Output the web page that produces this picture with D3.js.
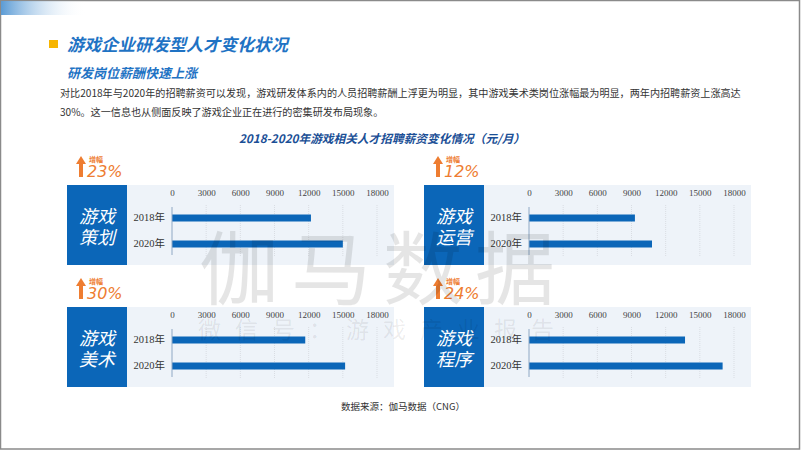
<!DOCTYPE html>
<html>
<head>
<meta charset="utf-8">
<script src="https://cdn.jsdelivr.net/npm/d3@7/dist/d3.min.js"></script>
<style>
  body { margin: 0; background: #fff; }
  svg { display: block; }
</style>
</head>
<body>
<div id="chart"></div>
<script>
// data
var roleNames = ["游戏策划", "游戏运营", "游戏美术", "游戏程序"];
var years = ["2018年", "2020年"];
var salary2018 = [12200, 9300, 11700, 13700];
var salary2020 = [15000, 10800, 15200, 17000];
var growth = ["23%", "12%", "30%", "24%"];
var tickValues = [0, 3000, 6000, 9000, 12000, 15000, 18000];

var width = 802, height = 451;
var cjk = "'Noto Sans CJK SC', 'Noto Sans', sans-serif";
var serif = "'Liberation Serif', 'Noto Sans CJK SC', serif";
var blue = "#0b66b8";
var orange = "#ee7d31";

var svg = d3.select("#chart").append("svg")
  .attr("width", width)
  .attr("height", height);

var defs = svg.append("defs");
var grad = defs.append("linearGradient").attr("id", "topGrad");
grad.append("stop").attr("offset", "0%").attr("stop-color", "#5b9bd5");
grad.append("stop").attr("offset", "100%").attr("stop-color", "#ffffff").attr("stop-opacity", 0);

// frame
svg.append("rect")
  .attr("x", 0.5).attr("y", 0.5)
  .attr("width", 799).attr("height", 448.5)
  .attr("fill", "none")
  .attr("stroke", "#8a8a8a")
  .attr("stroke-width", 1.5);
svg.append("rect")
  .attr("x", 1).attr("y", 1)
  .attr("width", 85).attr("height", 14)
  .attr("fill", "url(#topGrad)");

// heading
svg.append("rect")
  .attr("x", 49).attr("y", 40)
  .attr("width", 9).attr("height", 8)
  .attr("fill", "#f7b500");
svg.append("text")
  .attr("x", 67).attr("y", 51)
  .attr("font-family", cjk)
  .attr("font-size", 17)
  .attr("font-weight", "bold")
  .attr("font-style", "italic")
  .attr("fill", "#1f73c4")
  .text("游戏企业研发型人才变化状况");
svg.append("text")
  .attr("x", 67).attr("y", 78)
  .attr("font-family", cjk)
  .attr("font-size", 13)
  .attr("font-weight", "bold")
  .attr("font-style", "italic")
  .attr("fill", "#1f73c4")
  .text("研发岗位薪酬快速上涨");

var para = [
  "对比2018年与2020年的招聘薪资可以发现，游戏研发体系内的人员招聘薪酬上浮更为明显，其中游戏美术类岗位涨幅最为明显，两年内招聘薪资上涨高达",
  "30%。这一信息也从侧面反映了游戏企业正在进行的密集研发布局现象。"
];
svg.selectAll("text.para")
  .data(para)
  .enter().append("text")
  .attr("class", "para")
  .attr("x", 60)
  .attr("y", function(d, i) { return 97 + i * 19; })
  .attr("font-family", cjk)
  .attr("font-size", 10.1)
  .attr("fill", "#333")
  .text(function(d) { return d; });

svg.append("text")
  .attr("x", 382).attr("y", 143)
  .attr("text-anchor", "middle")
  .attr("font-family", cjk)
  .attr("font-size", 11.7)
  .attr("font-weight", "bold")
  .attr("font-style", "italic")
  .attr("fill", "#1b4f96")
  .text("2018-2020年游戏相关人才招聘薪资变化情况（元/月）");

// panels
var colX = [67, 424];
var rowY = [185, 307];

var x = d3.scaleLinear().domain([0, 18000]).range([105, 310]);
var y = d3.scaleBand().domain(years).range([20, 72]);

roleNames.forEach(function(name, i) {
  var px = colX[i % 2], py = rowY[Math.floor(i / 2)];
  var g = svg.append("g").attr("transform", "translate(" + px + "," + py + ")");
  var values = [salary2018[i], salary2020[i]];

  g.append("rect")
    .attr("x", 60).attr("y", 0)
    .attr("width", 267).attr("height", 80)
    .attr("fill", "#eef3f9");
  g.append("rect")
    .attr("x", 0).attr("y", 0)
    .attr("width", 60).attr("height", 80)
    .attr("fill", blue);

  g.selectAll("text.role")
    .data([name.slice(0, 2), name.slice(2)])
    .enter().append("text")
    .attr("class", "role")
    .attr("x", 30)
    .attr("y", function(d, j) { return 38 + j * 21; })
    .attr("text-anchor", "middle")
    .attr("font-family", cjk)
    .attr("font-size", 18)
    .attr("font-style", "italic")
    .attr("fill", "#fff")
    .text(function(d) { return d; });

  // grid
  g.selectAll("line.grid")
    .data(tickValues.slice(1))
    .enter().append("line")
    .attr("class", "grid")
    .attr("x1", function(d) { return x(d); })
    .attr("x2", function(d) { return x(d); })
    .attr("y1", 20).attr("y2", 72)
    .attr("stroke", "#d9dde3")
    .attr("stroke-dasharray", "1,1");

  var axis = g.append("g")
    .attr("transform", "translate(0,14)")
    .call(d3.axisTop(x).tickValues(tickValues).tickSize(0).tickFormat(d3.format("d")));
  axis.select(".domain").remove();
  axis.selectAll("text")
    .attr("font-family", serif)
    .attr("font-size", 9)
    .attr("fill", "#444");

  g.selectAll("rect.bar")
    .data(values)
    .enter().append("rect")
    .attr("class", "bar")
    .attr("x", x(0))
    .attr("y", function(d, j) { return y(years[j]) + y.bandwidth() / 2 - 3.5; })
    .attr("width", function(d) { return x(d) - x(0); })
    .attr("height", 7)
    .attr("fill", blue);

  g.append("line")
    .attr("x1", x(0)).attr("x2", x(0))
    .attr("y1", 22).attr("y2", 70)
    .attr("stroke", "#8fa8c4")
    .attr("stroke-width", 1);

  var yAxis = g.append("g")
    .attr("transform", "translate(" + (x(0) - 4) + ",0)")
    .call(d3.axisLeft(y).tickSize(0));
  yAxis.select(".domain").remove();
  yAxis.selectAll("text")
    .attr("font-family", serif)
    .attr("font-size", 10.5)
    .attr("fill", "#333");

  // growth tag
  var t = g.append("g").attr("transform", "translate(0,-30)");
  t.append("path")
    .attr("d", "M14,1 L19,9 L16,9 L16,22 L12,22 L12,9 L9,9 Z")
    .attr("fill", orange);
  t.append("text")
    .attr("x", 22).attr("y", 7)
    .attr("font-family", cjk)
    .attr("font-size", 7)
    .attr("font-weight", "bold")
    .attr("fill", orange)
    .text("增幅");
  t.append("text")
    .attr("x", 20).attr("y", 22)
    .attr("font-family", "'DejaVu Sans', sans-serif")
    .attr("font-size", 16)
    .attr("font-style", "italic")
    .attr("fill", orange)
    .text(growth[i]);
});

// watermark, drawn over the panels
svg.append("text")
  .attr("x", 383).attr("y", 298)
  .attr("text-anchor", "middle")
  .attr("font-family", cjk)
  .attr("font-size", 80)
  .attr("letter-spacing", 12)
  .attr("fill", "#000")
  .attr("fill-opacity", 0.1)
  .attr("pointer-events", "none")
  .text("伽马数据");
svg.append("text")
  .attr("x", 383).attr("y", 338)
  .attr("text-anchor", "middle")
  .attr("font-family", cjk)
  .attr("font-size", 23)
  .attr("letter-spacing", 14)
  .attr("fill", "#000")
  .attr("fill-opacity", 0.08)
  .attr("pointer-events", "none")
  .text("微信号：游戏产业报告");

svg.append("text")
  .attr("x", 403).attr("y", 410)
  .attr("text-anchor", "middle")
  .attr("font-family", cjk)
  .attr("font-size", 9.5)
  .attr("fill", "#333")
  .text("数据来源：伽马数据（CNG）");
</script>
</body>
</html>
